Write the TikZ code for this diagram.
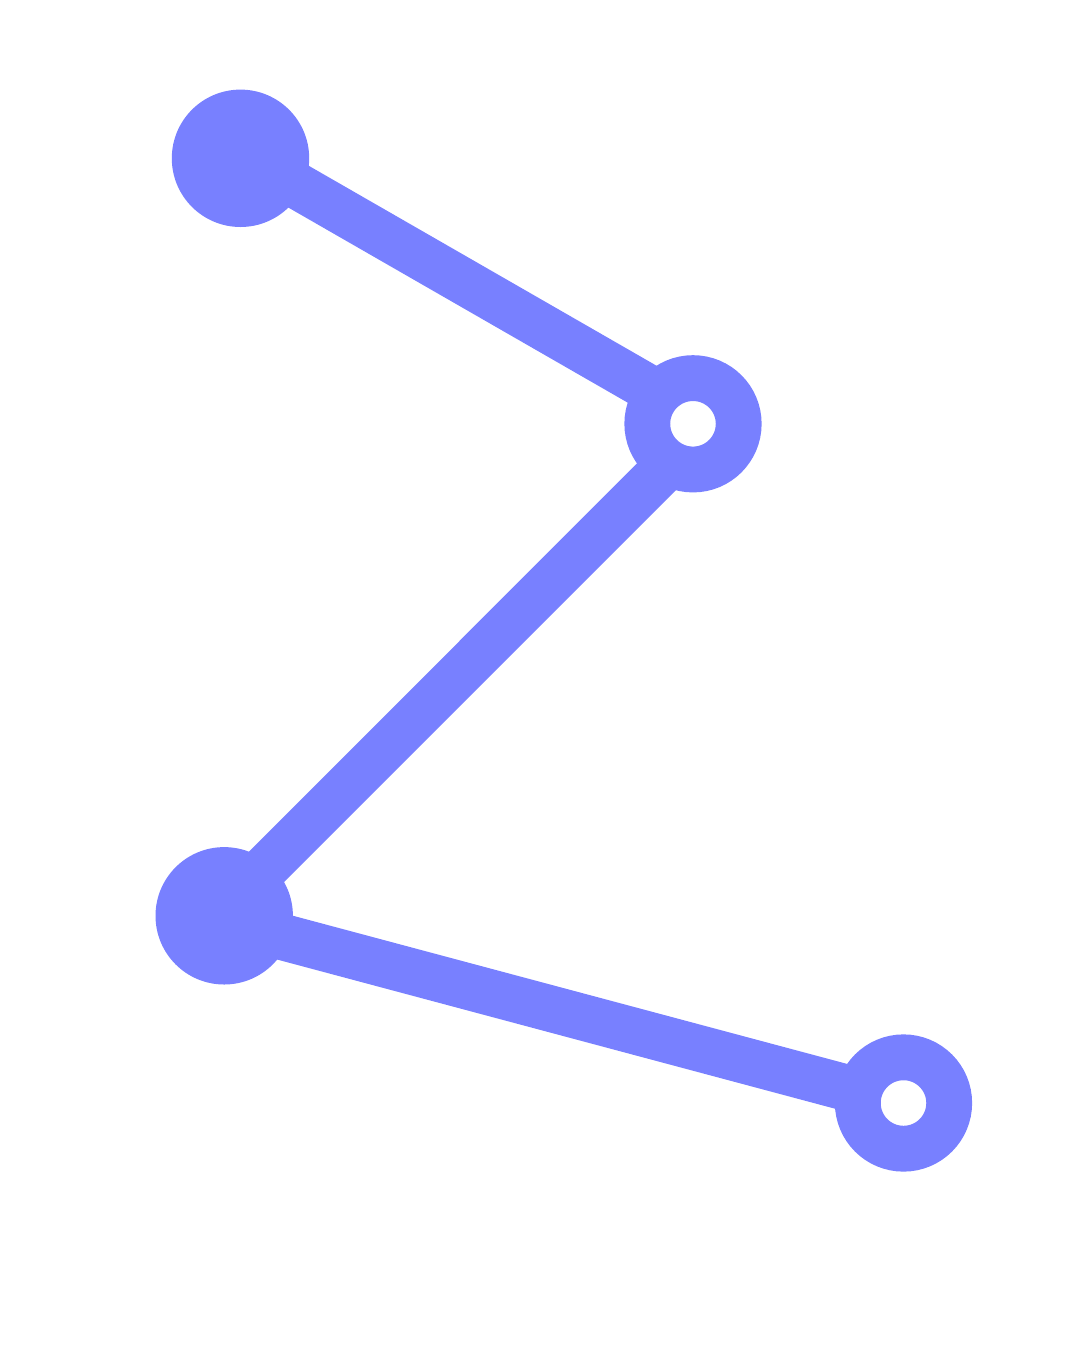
\documentclass[tikz,border=0pt]{standalone}
\usetikzlibrary{backgrounds}
\definecolor{zblue}{RGB}{120,128,255}
\begin{document}
\begin{tikzpicture}[x=0.5pt,y=-0.5pt,
    dot/.style={circle,fill=zblue,minimum size=68.7pt,inner sep=0pt},
    ring/.style={circle,draw=zblue,fill=white,line width=22.9pt,minimum size=45.7pt,inner sep=0pt}]
   \useasboundingbox (0,0) rectangle (1080,1350);
   \node[dot] (top) at (240.5,158.3) {};
   \node[ring] (upper) at (693,423.8) {};
   \node[dot] (bottom) at (224.2,915.8) {};
   \node[ring] (lower) at (903.5,1103) {};
   \begin{scope}[on background layer]
      \draw[zblue,line width=23.2pt,line join=round]
         ([yshift=2.5pt]top.center) -- ([xshift=8.5pt,yshift=0.3pt]upper.center)
         -- ([xshift=-4.8pt,yshift=-1.5pt]bottom.center) -- (lower.center);
   \end{scope}
\end{tikzpicture}
\end{document}
